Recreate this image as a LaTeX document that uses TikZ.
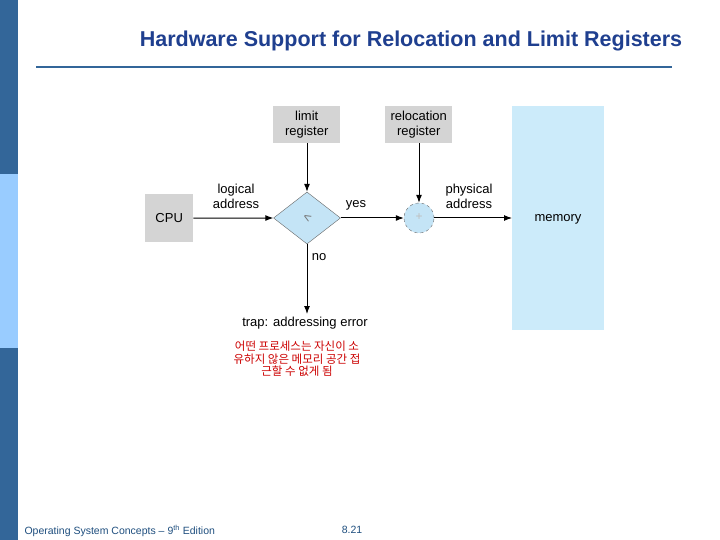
\documentclass[tikz,border=0pt]{standalone}
\usepackage{fontspec}
\setmainfont{Liberation Sans}
\newfontfamily\kr{Noto Sans CJK KR}
\usetikzlibrary{shapes.geometric,arrows.meta}
\definecolor{barblue}{HTML}{336699}
\definecolor{barlight}{HTML}{99CCFF}
\definecolor{titleblue}{HTML}{1F3F8F}
\definecolor{boxgray}{HTML}{D4D4D4}
\definecolor{membl}{HTML}{CCEBFA}
\definecolor{shapebl}{HTML}{C4E4F6}
\definecolor{footc}{HTML}{1F4F7F}
\tikzset{
 reg/.style={fill=boxgray,draw=none,minimum width=67pt,minimum height=37pt,align=center,font=\fontsize{13}{15}\selectfont,inner sep=0pt},
 lbl/.style={align=center,font=\fontsize{13}{15}\selectfont,inner sep=0pt},
 arr/.style={-{Latex[length=8pt,width=6pt]},line width=1pt}
}
\begin{document}
\begin{tikzpicture}[x=1pt,y=-1pt]
\useasboundingbox (0,0) rectangle (720,540);
\fill[white] (0,0) rectangle (720,540);
\fill[barblue] (0,0) rectangle (18,540);
\fill[barlight] (0,174) rectangle (18,348);
\node[font=\bfseries\fontsize{21.5}{24}\selectfont,text=titleblue] (title) at (411,41) {Hardware Support for Relocation and Limit Registers};
\draw[barblue,line width=2.5pt] (36,67) -- (672,67);
\node[reg,anchor=north west] (lim) at (273,106) {limit\\register};
\node[reg,anchor=north west] (rel) at (385,106) {relocation\\register};
\node[fill=membl,minimum width=92pt,minimum height=224pt,anchor=north west,inner sep=0pt] (mem) at (512,106) {};
\node[lbl] at (558,219) {memory};
\node[reg,minimum width=48pt,minimum height=48pt,anchor=north west] (cpu) at (145,194) {CPU};
\node[diamond,fill=shapebl,draw=black!60,line width=0.4pt,minimum width=67pt,minimum height=52pt,inner sep=0pt,aspect=1.3] (dia) at (307,218) {};
\node[font=\fontsize{13}{13}\selectfont,text=black!55,rotate=-30] at (307,218) {<};
\node[circle,fill=shapebl,draw=black!60,dashed,line width=0.4pt,minimum size=30pt,inner sep=0pt] (add) at (419,218) {};
\node[font=\fontsize{12}{12}\selectfont,text=black!25] at (419,217) {+};
\coordinate (trap) at (307,314);
\draw[arr] (cpu.east) -- (dia.west);
\draw[arr] (dia.east) -- (add.west);
\draw[arr] (add.east) -- (mem.west|-add.east);
\draw[arr] (lim.south-|dia.north) -- (dia.north);
\draw[arr] (rel.south-|add.north) -- (add.north);
\draw[arr] (dia.south) -- (trap);
\node[lbl] at (236,196) {logical\\address};
\node[lbl] at (356,205) {yes};
\node[lbl] at (469,196) {physical\\address};
\node[lbl] at (319,257) {no};
\node[lbl] (tr) at (305,323) {trap: addressing error};
\node[align=center,text=red!80!black,font=\kr\fontsize{11.5}{12.5}\selectfont] (kor) at (297,359) {어떤 프로세스는 자신이 소\\유하지 않은 메모리 공간 접\\근할 수 없게 됨};
\node[anchor=west,text=footc,font=\fontsize{10.5}{11}\selectfont] (foot) at (21,531) {Operating System Concepts -- 9\textsuperscript{th} Edition};
\node[text=footc,font=\fontsize{10.5}{11}\selectfont] (pg) at (352,530) {8.21};
\end{tikzpicture}
\end{document}
